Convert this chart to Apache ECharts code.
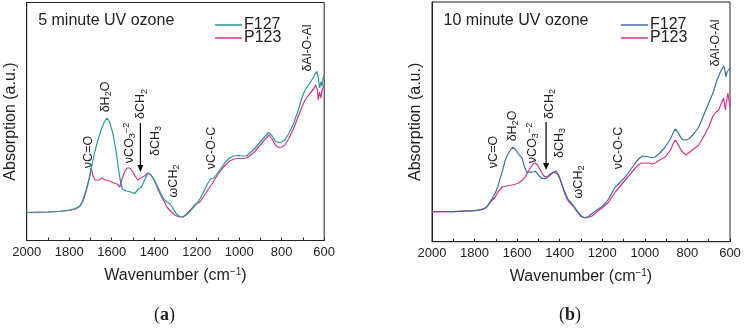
<!DOCTYPE html>
<html><head><meta charset="utf-8">
<script src="https://cdn.jsdelivr.net/npm/echarts@6/dist/echarts.min.js"></script>
<style>html,body{margin:0;padding:0;background:#fff}#c{width:744px;height:329px}</style>
</head><body><div id="c"></div><script>
// ---- data (wavenumber in cm-1, absorption in arbitrary units) ----
const xTicks = [2000, 1800, 1600, 1400, 1200, 1000, 800, 600];
const seriesNames = ['F127', 'P123'];
const panelTitles = ['5 minute UV ozone', '10 minute UV ozone'];
const panelLetters = ['a', 'b'];

const wnA_F127 = [2000,1900,1850,1800,1770,1750,1735,1720,1705,1695,1680,1665,1650,1635,1622,1610,1595,1580,1570,1560,1550,1530,1510,1492,1475,1460,1445,1430,1415,1400,1385,1370,1355,1340,1325,1310,1295,1280,1265,1250,1230,1210,1190,1170,1150,1135,1120,1105,1085,1065,1045,1025,1005,985,965,945,925,905,885,862,845,830,815,800,785,765,745,725,705,690,670,650,636,628,622,615,610,605,600];
const absA_F127 = [28,28.5,29,30.5,32,34.5,40.5,50.5,62.5,73.5,88.5,100.5,110.5,118.5,122.5,118.5,107.5,90.5,74.5,60.5,51.5,49.5,48.5,47,51.5,53.5,60.5,67.5,65.5,60.5,54.5,47.5,41.5,38.5,36.5,31.5,26.5,24,23.5,25.5,29.5,34.5,39.5,47.5,56.5,61.5,62.5,66.5,72.5,78.5,82.5,84.5,85,84.5,84.5,88.5,92.5,97.5,102.5,108,104.5,99.5,98,98.5,100.5,107.5,116.5,128.5,142.5,150.5,156.5,163.5,169,163.5,152.5,158.5,154.5,162.5,165.5];

const wnA_P123 = [2000,1900,1850,1800,1770,1750,1735,1720,1705,1697,1688,1678,1660,1645,1630,1610,1590,1575,1562,1550,1540,1528,1515,1500,1490,1478,1465,1455,1445,1430,1415,1400,1385,1370,1355,1340,1320,1300,1280,1265,1245,1225,1205,1185,1165,1145,1125,1105,1085,1065,1045,1025,1005,985,965,945,925,905,885,860,845,830,815,800,785,765,745,725,705,690,670,650,640,632,628,622,615,610,605,600];
const absA_P123 = [28,28.5,29,30,31.5,34,39.5,49.5,62.5,72.5,64.5,60.5,60.5,62.5,60.5,59.5,57.5,56.5,53.5,62.5,68.5,72.5,72.5,68.5,64.5,60.5,62.5,63.5,64.5,67.5,65.5,60.5,52.5,45.5,39.5,33.5,28.5,25,23.5,23.5,27,31.5,36.5,38.5,44.5,51.5,57.5,64.5,70.5,75.5,79.5,81.5,82,82,82.5,85.5,89.5,94.5,99.5,105.5,101.5,95.5,93,93.5,95.5,102.5,111.5,122.5,133.5,140.5,146.5,151.5,155.5,150.5,140.5,148.5,142.5,150.5,153.5,155.5];

const wnB_F127 = [2000,1900,1850,1800,1781,1760,1742,1725,1703,1690,1685,1679,1668,1656,1644,1632,1620,1605,1593,1577,1565,1555,1546,1530,1515,1500,1485,1468,1455,1444,1430,1418,1405,1395,1385,1374,1362,1350,1338,1327,1315,1303,1290,1278,1262,1248,1225,1201,1185,1170,1155,1139,1115,1092,1068,1045,1025,1010,995,982,965,951,930,904,880,865,857,845,830,818,806,794,770,747,725,700,680,661,645,630,624,619,614,610,605,600];
const absB_F127 = [30,30,30.5,31,31.5,32.5,35,40.5,48.5,55.5,59.5,61.5,71.5,81.5,87.5,91.5,94.5,91.5,87.5,83.5,74.5,69.5,68.5,69.5,70.5,66.5,63.5,63,64.7,66.7,69.2,70.7,66.7,60.7,54.7,48.7,42.7,39.7,36.7,33.7,29.7,25.7,24.2,24.2,25.7,28.2,31.7,35.2,38.7,42.7,48.7,54.7,59.7,64.7,71.7,78.7,83.7,85.7,85.2,84.7,84.2,84.7,88.7,94.7,102.7,109.7,112.7,109.7,103.7,101.7,101.7,102.7,107.7,114.7,125.7,138.7,148.7,161.7,169.7,175.7,171.7,164.7,169.7,171.7,167.7,173.7];

const wnB_P123 = [2000,1900,1850,1800,1781,1760,1742,1725,1703,1690,1685,1671,1650,1624,1605,1593,1575,1562,1550,1538,1525,1515,1505,1491,1478,1468,1455,1444,1430,1421,1410,1397,1385,1374,1360,1342,1325,1311,1295,1280,1265,1248,1225,1201,1185,1170,1155,1139,1115,1092,1068,1045,1025,1014,995,982,965,951,930,904,880,865,857,845,830,818,806,794,770,747,725,700,680,665,653,640,630,622,615,610,605,600];
const absB_P123 = [30,30,30.5,31,31.5,32.5,34.7,39.7,44.7,49.7,47.7,54.7,55.7,56.7,57.7,58.7,61.7,64.7,69.7,73.7,77.7,78.7,76.7,71.7,66.7,64.7,65.7,67.7,69.7,70.7,67.7,61.7,53.7,46.7,40.7,36.7,31.7,28.7,25.2,23.7,24.2,25.7,29.7,33.7,36.7,39.7,44.7,49.7,55.7,61.7,67.7,73.7,77.7,78.7,78.7,78.7,77.7,78.7,81.7,84.7,91.7,98.7,101.7,97.7,91.7,88.7,86.7,88.7,92.7,96.7,104.7,114.7,125.7,129.7,131.7,138.7,143.7,131.7,141.7,148.7,141.7,134.7];

// band annotations: [label(rich), wavenumber, absorption level]
const bandLabelsA = [
  ['{n|νC=O}', 1707, 88.5], ['{n|δH}{b|2}{n|O}', 1627, 143.5], ['{n|νCO}{b|3}{p|−2}', 1518, 97.5],
  ['{n|δCH}{b|2}', 1462, 136.5], ['{n|δCH}{b|3}', 1396, 99.5], ['{n|ωCH}{b|2}', 1311, 59.5],
  ['{n|νC-O-C}', 1128, 92.5], ['{n|δAl-O-Al}', 680, 192.5]
];
const bandLabelsB = [
  ['{n|νC=O}', 1709, 89.7], ['{n|δH}{b|2}{n|O}', 1620, 115.7], ['{n|νCO}{b|3}{p|−2}', 1526, 98.7],
  ['{n|δCH}{b|2}', 1448, 137.7], ['{n|δCH}{b|3}', 1399, 98.7], ['{n|ωCH}{b|2}', 1310, 59.7],
  ['{n|νC-O-C}', 1122, 93.7], ['{n|δAl-O-Al}', 666, 198.7]
];
// arrow (wavenumber, from level, to level)
const arrowA = [1465, 117.5, 68.5];
const arrowB = [1464, 119.7, 71.7];

// ---- chart ----
const FONT = '"Liberation Sans", Arial, sans-serif';
const INK = '#222';
const colors = [['#26979c', '#d2378e'], ['#3a71a0', '#d2378e']];
const yMax = [238, 239.7];
const grids = [
  {left: 26.7, top: 2.5, width: 297.5, height: 238},
  {left: 432, top: 2, width: 298, height: 239.7}
];
const zip = (a, b) => a.map((x, i) => [x, b[i]]);
const data = [[zip(wnA_F127, absA_F127), zip(wnA_P123, absA_P123)], [zip(wnB_F127, absB_F127), zip(wnB_P123, absB_P123)]];

const chart = echarts.init(document.getElementById('c'));
const option = {
  animation: false,
  backgroundColor: '#fff',
  grid: grids.map(g => Object.assign({show: true, borderColor: INK, borderWidth: 1, backgroundColor: 'transparent'}, g)),
  xAxis: [0, 1].map(i => ({
    gridIndex: i, type: 'value', min: 600, max: 2000, interval: 200, inverse: true,
    axisLine: {show: true, lineStyle: {color: INK, width: 1}},
    axisTick: {show: true, inside: true, length: 3, lineStyle: {color: INK}},
    minorTick: {show: true, splitNumber: 2, length: 3, lineStyle: {color: INK}},
    splitLine: {show: false},
    axisLabel: {margin: 5, fontSize: 13, color: INK, fontFamily: FONT, formatter: v => xTicks.includes(v) ? String(v) : ''},
    name: 'Wavenumber (cm{s|−1})', nameLocation: 'middle', nameGap: 27,
    nameTextStyle: {fontSize: 16, color: INK, fontFamily: FONT,
      rich: {s: {fontSize: 10, color: INK, fontFamily: FONT, verticalAlign: 'top', lineHeight: 16, padding: [0, 0, 6, 0]}}}
  })),
  yAxis: [0, 1].map(i => ({
    gridIndex: i, type: 'value', min: 0, max: yMax[i],
    axisLine: {show: true, lineStyle: {color: INK}}, axisTick: {show: false}, axisLabel: {show: false}, splitLine: {show: false},
    name: 'Absorption (a.u.)', nameLocation: 'middle', nameGap: 8,
    nameTextStyle: {fontSize: 16, color: INK, fontFamily: FONT}
  })),
  legend: [0, 1].map(i => ({
    left: i === 0 ? 210 : 616, top: 12, orient: 'vertical', icon: 'rect', itemWidth: 27, itemHeight: 1.5, itemGap: -3,
    selectedMode: false,
    textStyle: {fontSize: 16, color: INK, fontFamily: FONT, padding: [0, 0, 0, -3]},
    data: seriesNames.map((n, k) => ({name: n, itemStyle: {color: colors[i][k]}}))
  })),
  series: []
};
for (let i = 0; i < 2; i++) {
  for (let k = 0; k < 2; k++) {
    option.series.push({
      type: 'line', name: seriesNames[k], xAxisIndex: i, yAxisIndex: i, data: data[i][k],
      showSymbol: false, symbol: 'none', z: k === 0 ? 3 : 2,
      lineStyle: {color: colors[i][k], width: 1.2}, itemStyle: {color: colors[i][k]}
    });
  }
}
chart.setOption(option);

// ---- annotations placed through the axes' own scales ----
const rich = {
  n: {fontSize: 12.5, fontFamily: FONT, fill: INK, lineHeight: 15, verticalAlign: 'middle'},
  b: {fontSize: 9, fontFamily: FONT, fill: INK, lineHeight: 9, verticalAlign: 'bottom'},
  p: {fontSize: 9, fontFamily: FONT, fill: INK, lineHeight: 9, verticalAlign: 'top'}
};
const graphics = [];
[[bandLabelsA, arrowA], [bandLabelsB, arrowB]].forEach(([labels, arrow], i) => {
  const finder = {xAxisIndex: i, yAxisIndex: i};
  labels.forEach(([t, wn, v]) => {
    const p = chart.convertToPixel(finder, [wn, v]);
    graphics.push({type: 'text', x: p[0], y: p[1], rotation: Math.PI / 2,
      style: {text: t, rich: rich, align: 'center', verticalAlign: 'middle', fill: INK}});
  });
  const p1 = chart.convertToPixel(finder, [arrow[0], arrow[1]]);
  const p2 = chart.convertToPixel(finder, [arrow[0], arrow[2]]);
  graphics.push({type: 'line', shape: {x1: p1[0], y1: p1[1], x2: p2[0], y2: p2[1] - 5}, style: {stroke: '#000', lineWidth: 1.2}});
  graphics.push({type: 'polygon', shape: {points: [[p2[0] - 3, p2[1] - 7], [p2[0] + 3, p2[1] - 7], [p2[0], p2[1]]]}, style: {fill: '#000'}});
  const g = grids[i];
  graphics.push({type: 'text', x: g.left + 11.5, y: 21, style: {text: panelTitles[i], fontSize: 16, fontFamily: FONT, fill: INK, align: 'left', verticalAlign: 'middle'}});
  graphics.push({type: 'text', x: g.left + g.width / 2 - 11, y: 315,
    style: {text: '({l|' + panelLetters[i] + '})', fontSize: 18, fontFamily: '"Liberation Serif", serif', fill: INK, align: 'center', verticalAlign: 'middle',
      rich: {l: {fontSize: 18, fontWeight: 'bold', fontFamily: '"Liberation Serif", serif', fill: INK}}}});
});
chart.setOption({graphic: graphics});
</script></body></html>
